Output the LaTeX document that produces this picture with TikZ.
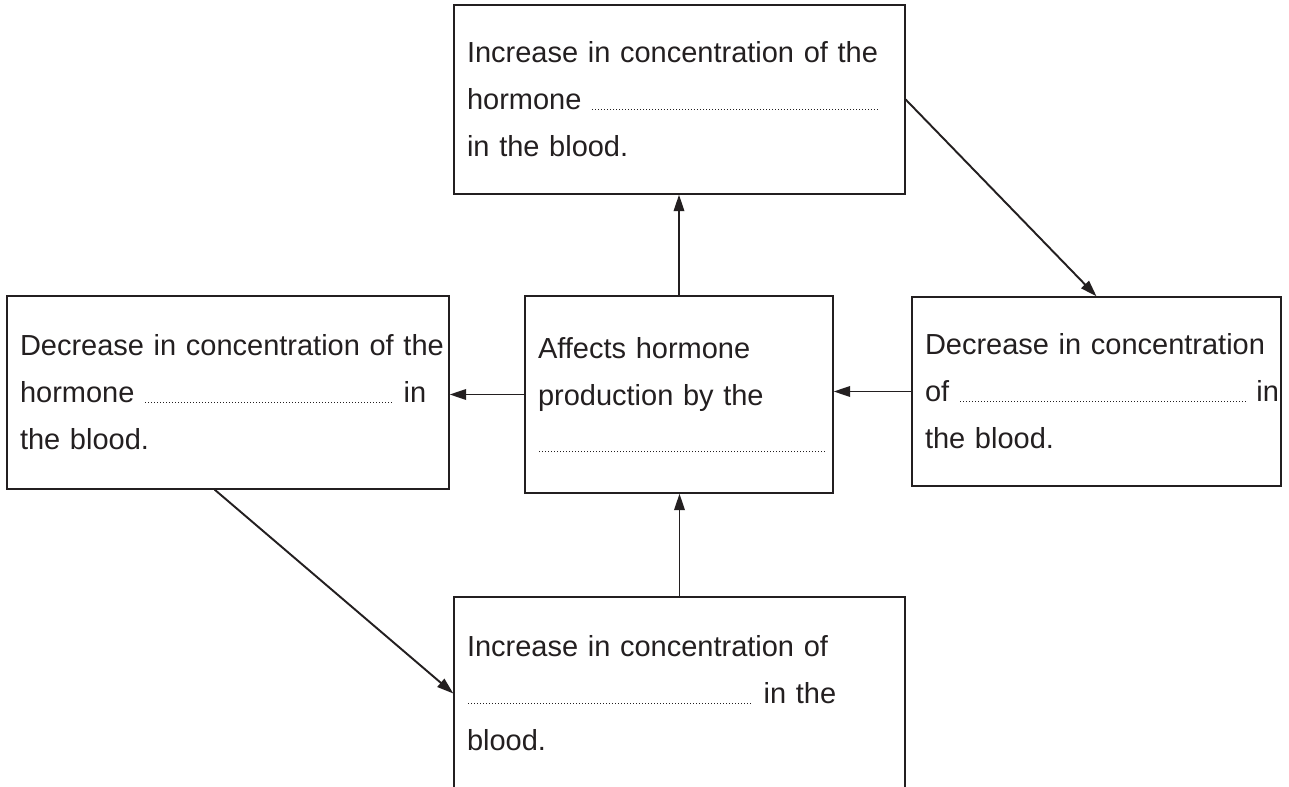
\documentclass[tikz,border=0pt]{standalone}
\usepackage{fontspec}
\setmainfont{Liberation Sans}
\usetikzlibrary{
	arrows.meta,
	calc,
	positioning,
}
\definecolor{ink}{HTML}{231F20}
\newcommand{\gap}[1]{\leavevmode\hbox to #1{\leaders\hbox to 0.06cm{\hss\rule{0.75pt}{0.75pt}\hss}\hfill}}
\tikzset{box/.style={draw=ink,rectangle,line width=0.8pt,inner xsep=0.26cm,inner ysep=0pt,align=left,text=ink,font=\fontsize{16.5}{26.75}\selectfont,}}
\tikzset{link/.style={draw=ink,line width=1.1pt,->,}}
\tikzset{
	>={Triangle[length=9.4pt,width=6pt]},
	x=0.02cm,
	y=-0.02cm,
}

\begin{document}
\begin{tikzpicture}

\useasboundingbox (0,0) rectangle (1289,787);

\node[box,minimum width=9.02cm,minimum height=3.78cm,text width=8.5cm](rise1) at(679.5,99.5) {Increase in concentration of the\\hormone \gap{5.78cm}\\in the blood.};
\node[box,minimum width=6.16cm,minimum height=3.94cm,text width=5.64cm](gland) at(679,394.5) {Affects hormone\\production by the\\\gap{5.76cm}};
\node[box,minimum width=7.38cm,minimum height=3.78cm,text width=6.86cm](fall1) at(1096.5,391.5) {Decrease in concentration\\\mbox{of \gap{5.76cm} in}\\the blood.};
\node[box,minimum width=8.84cm,minimum height=3.86cm,text width=8.32cm](fall2) at(228,392.5) {\mbox{Decrease in concentration of the}\\hormone \gap{5cm} in\\the blood.};
\node[box,minimum width=9.02cm,minimum height=3.86cm,text width=8.5cm](rise2) at(679.5,693.5) {Increase in concentration of\\\gap{5.74cm} in the\\blood.};

\draw[link] (gland.north) -- (gland.north |- rise1.south);
\draw[link] (rise1.east) -- (fall1.north);
\draw[link] (fall1.west) -- (fall1.west -| gland.east);
\draw[link] (gland.west) -- (gland.west -| fall2.east);
\draw[link] ($(fall2.south west)!0.47!(fall2.south east)$) -- (rise2.west);
\draw[link] (rise2.north) -- (rise2.north |- gland.south);

\end{tikzpicture}
\end{document}
